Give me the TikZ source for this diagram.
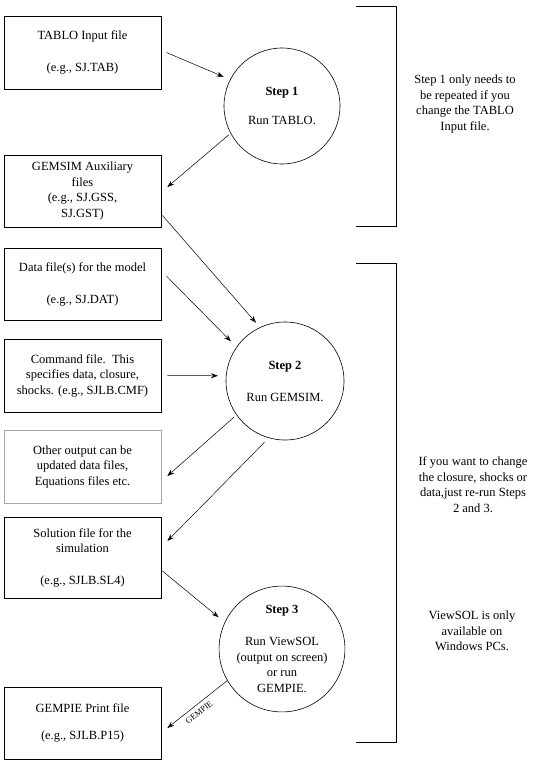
\documentclass[tikz,border=0pt]{standalone}
\usepackage{fontspec}
\setmainfont{Liberation Serif}
\usetikzlibrary{positioning,arrows.meta}

\begin{document}
\begin{tikzpicture}[
        x=1pt, y=-1pt,
        font=\fontsize{12.5}{15.5}\selectfont,
        filebox/.style={draw, line width=0.8pt, minimum width=157pt, minimum height=73pt, align=center, inner sep=2pt},
        stepnode/.style={draw, circle, line width=0.6pt, minimum size=117pt, inner sep=0pt, align=center},
        flow/.style={-{Stealth[length=7pt,width=5pt,inset=2.5pt]}, line width=0.5pt},
        bracket/.style={line width=1pt},
        note/.style={align=center}
    ]
        \useasboundingbox (0,0) rectangle (539,765);

        % files on the left
        \node[filebox] (tablo) at (82.5,52.5) {TABLO Input file\\[17pt](e.g., SJ.TAB)};
        \node[filebox, minimum height=72pt] (gemsim) at (82.5,191) {GEMSIM Auxiliary\\files\\(e.g., SJ.GSS,\\SJ.GST)};
        \node[filebox, minimum height=72pt] (data) at (82.5,284) {Data file(s) for the model\\[16.5pt](e.g., SJ.DAT)};
        \node[filebox] (command) at (82.5,375.5) {Command file.\ \ This\\specifies data, closure,\\shocks. (e.g., SJLB.CMF)};
        \node[filebox, draw=gray!70] (other) at (82.5,466.5) {Other output can be\\updated data files,\\Equations files etc.};
        \node[filebox, minimum height=81pt] (solution) at (82.5,557.5) {Solution file for the\\simulation\\[16pt](e.g., SJLB.SL4)};
        \node[filebox, minimum height=72pt] (gempie) at (82.5,723) {GEMPIE Print file\\[12pt](e.g., SJLB.P15)};

        % the three steps
        \node[stepnode, minimum size=116pt] (s1) at (282,106) {\textbf{Step 1}\\[14pt]Run TABLO.};
        \node[stepnode, minimum size=118pt] (s2) at (285,381) {\textbf{Step 2}\\[16.5pt]Run GEMSIM.};
        \node[stepnode, minimum size=118pt] (s3) at (282,649) {\textbf{Step 3}\\[16.5pt]Run ViewSOL\\(output on screen)\\or run\\GEMPIE.};

        % arrows
        \draw[flow, shorten >=7pt] ([xshift=5pt]tablo.east) -- (s1.153);
        \draw[flow, shorten <=2pt] (s1.208) -- ([shift={(6,-4)}]gemsim.east);
        \draw[flow, shorten >=6pt] ([shift={(1,-12)}]gemsim.south east) -- (s2.115);
        \draw[flow, shorten >=8pt] ([shift={(5,-8)}]data.east) -- (s2.145);
        \draw[flow, shorten >=8pt] ([xshift=6pt]command.east) -- (s2.175);
        \draw[flow, shorten <=3pt] (s2.215) -- ([shift={(6,9.5)}]other.east);
        \draw[flow, shorten <=6pt] (s2.254) -- ([shift={(6,-16.5)}]solution.east);
        \draw[flow, shorten >=8pt] ([shift={(1,13.5)}]solution.east) -- (s3.155);
        \draw[flow] (s3.210) -- ([shift={(6,5)}]gempie.east)
            node[pos=0.55, sloped, below, font=\fontsize{8.5}{9}\selectfont, inner sep=4.5pt] (gemlbl) {GEMPIE};

        % brackets
        \draw[bracket] (356,7) -- (396,7) -- (396,226) -- (356,226);
        \draw[bracket] (356,263) -- (396,263) -- (396,742) -- (356,742);

        % notes on the right
        \node[note] (note1) at (465,104) {Step 1 only needs to\\be repeated if you\\change the TABLO\\Input file.};
        \node[note] (note2) at (473,484.5) {If you want to change\\the closure, shocks or\\data,just re-run Steps\\2 and 3.};
        \node[note] (note3) at (472,631) {ViewSOL is only\\available on\\Windows PCs.};
    \end{tikzpicture}
\end{document}
